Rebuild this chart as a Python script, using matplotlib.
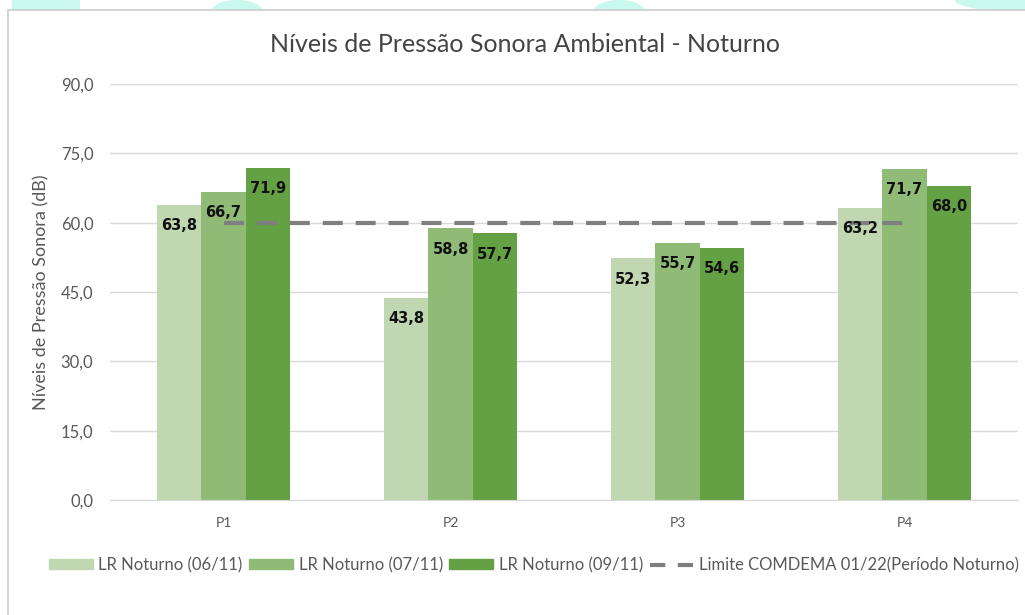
import numpy as np
import matplotlib.pyplot as plt
from matplotlib.patches import Rectangle, Ellipse, Patch
from matplotlib.lines import Line2D

# Data
pontos = ["P1", "P2", "P3", "P4"]
lr_0611 = [63.8, 43.8, 52.3, 63.2]
lr_0711 = [66.7, 58.8, 55.7, 71.7]
lr_0911 = [71.9, 57.7, 54.6, 68.0]
limite = [60.0, 60.0, 60.0, 60.0]
series_names = ["LR Noturno (06/11)", "LR Noturno (07/11)", "LR Noturno (09/11)"]
limite_name = "Limite COMDEMA 01/22(Período Noturno)"
yticks = [0, 15, 30, 45, 60, 75, 90]

c = ["#c0d7b1", "#8fbb77", "#64a044"]
grey_txt = "#595959"
grid_c = "#d9d9d9"
fnt = "Lato"

plt.rcParams["font.family"] = [fnt, "DejaVu Sans"]

fig = plt.figure(figsize=(10.25, 6.15), dpi=100)

# page background bits above the chart frame
bg = fig.add_axes([0, 0, 1, 1], zorder=-5)
bg.set_xlim(0, 1025)
bg.set_ylim(615, 0)
bg.axis("off")
cyan = "#c9f8ef"
bg.add_patch(Rectangle((12, 0), 68, 10, color=cyan, lw=0))
bg.add_patch(Ellipse((237, 12), 52, 24, color=cyan, lw=0))
bg.add_patch(Ellipse((619, 12), 52, 24, color=cyan, lw=0))
bg.add_patch(Ellipse((1010, 0), 110, 22, color=cyan, lw=0))
bg.add_patch(Rectangle((8, 10), 1030, 620, facecolor="white", edgecolor="#d0d0d0", lw=1.3))

ax = fig.add_axes([110/1025, 1 - 500/615, (1018 - 110)/1025, (500 - 84)/615])
x = np.arange(len(pontos))
w = 0.195

for i, vals in enumerate([lr_0611, lr_0711, lr_0911]):
    bars = ax.bar(x + (i - 1)*w, vals, width=w, color=c[i], zorder=2, label=series_names[i])
    for b, v in zip(bars, vals):
        ax.annotate(f"{v:.1f}".replace(".", ","), (b.get_x() + b.get_width()/2, v),
                    xytext=(0, -15), textcoords="offset points", ha="center", va="center",
                    fontsize=10.5, fontweight="bold", color="#111111",
                    family="DejaVu Sans", zorder=4)

ax.plot(x, limite, color="#7f7f7f", lw=3, dashes=(4.8, 3.1), zorder=3,
        solid_capstyle="butt", dash_capstyle="butt")

ax.set_xlim(-0.5, 3.5)
ax.set_ylim(0, 90)
ax.set_yticks(yticks)
ax.set_yticklabels([f"{t:.1f}".replace(".", ",") for t in yticks], color=grey_txt, fontsize=12)
ax.set_xticks(x)
ax.set_xticklabels(pontos, color=grey_txt, fontsize=10)
ax.tick_params(axis="both", length=0)
ax.tick_params(axis="y", pad=12)
ax.tick_params(axis="x", pad=12)
ax.grid(True, axis="y", color=grid_c, lw=1, zorder=0)
for s in ["top", "right", "left"]:
    ax.spines[s].set_visible(False)
ax.spines["bottom"].set_color(grid_c)
ax.set_axisbelow(True)

ax.set_ylabel("Níveis de Pressão Sonora (dB)", color=grey_txt, fontsize=13, labelpad=8)
fig.text(525/1025, 1 - 45/615, "Níveis de Pressão Sonora Ambiental - Noturno",
         ha="center", va="center", fontsize=18, color="#444444")

handles = [Patch(color=c[0]), Patch(color=c[1]), Patch(color=c[2]),
           Line2D([0], [0], color="#7f7f7f", lw=3, dashes=(3.67, 3.0))]
labels = series_names + [limite_name]
fig.legend(handles, labels, loc="center", bbox_to_anchor=(534/1025, 1 - 565/615), ncol=4,
           frameon=False, fontsize=12, handlelength=2.6, handleheight=0.5,
           handletextpad=0.35, columnspacing=0.4, labelcolor=grey_txt)

plt.savefig("out.png", dpi=100)
